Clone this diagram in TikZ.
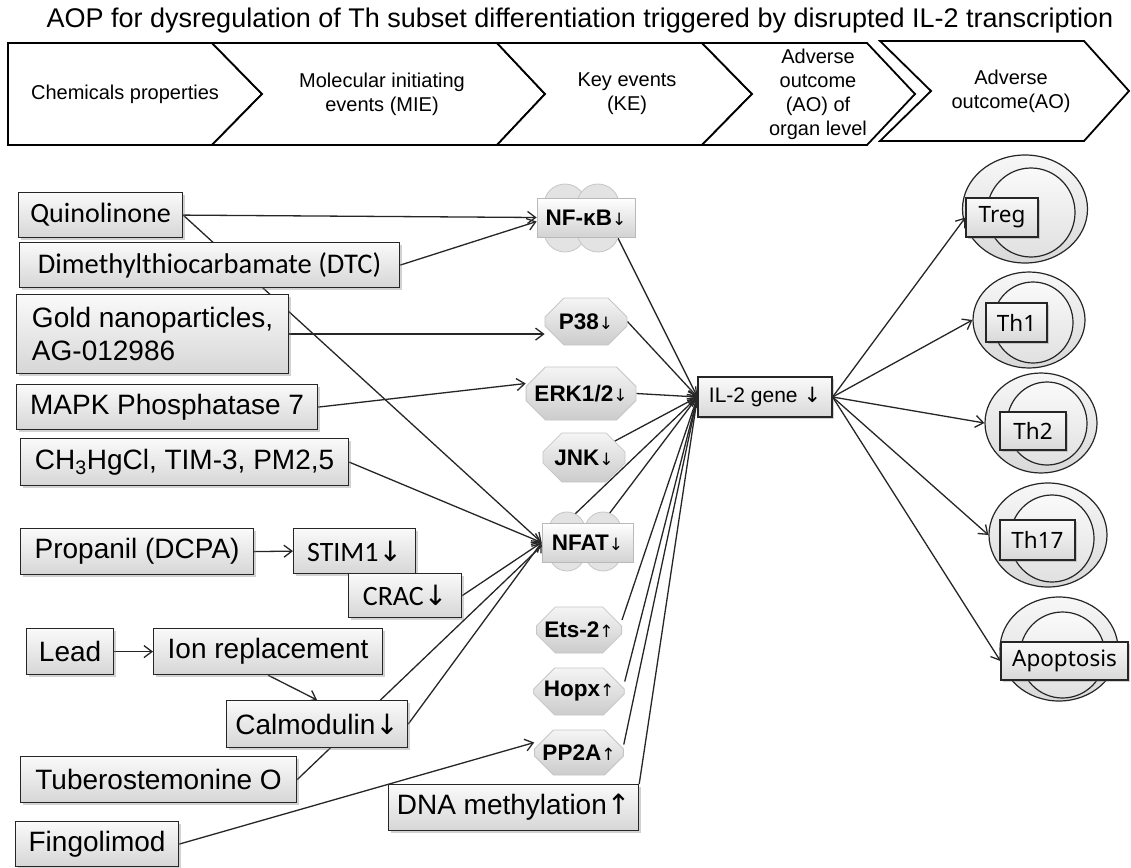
\documentclass[tikz,border=0pt]{standalone}
\usepackage{fontspec}
\setmainfont{Liberation Sans}
\newfontfamily\carl{Carlito}
\newfontfamily\arw{DejaVu Sans}
\newfontfamily\lblf{Noto Sans}
\usetikzlibrary{shapes.misc,shapes.geometric,shadows,arrows.meta,calc,backgrounds}
\newcommand{\dnA}{{\arw ↓}}
\newcommand{\upA}{{\arw ↑}}
\newcommand{\smdn}{{\arw\mdseries\fontsize{17}{17}\selectfont ↓}}
\newcommand{\smup}{{\arw\mdseries\fontsize{17}{17}\selectfont ↑}}
\tikzset{
  hdr/.style={draw=black, line width=1.8pt, fill=white, line join=miter},
  hdrtxt/.style={font=\fontsize{20}{24}\selectfont, align=center, inner sep=0pt},
  lbox/.style={draw=black!85, line width=1.2pt, rectangle, top color=gray!4, bottom color=gray!32,
    drop shadow={shadow xshift=2pt, shadow yshift=-2pt, opacity=0.35},
    inner sep=0pt, anchor=north west, font=\fontsize{28}{33}\selectfont, align=center},
  kebox/.style={rectangle, draw=gray!55, line width=0.8pt, top color=white, bottom color=gray!35,
    inner sep=0pt, font=\bfseries\fontsize{22.5}{25}\selectfont},
  oct/.style={chamfered rectangle, chamfered rectangle xsep=11pt, chamfered rectangle ysep=11pt,
    draw=gray!45, line width=0.8pt, top color=gray!8, bottom color=gray!40, inner sep=0pt,
    font=\bfseries\fontsize{22.5}{25}\selectfont},
  cloudc/.style={draw=gray!45, line width=0.8pt, fill=gray!22},
  ilbox/.style={rectangle, draw=black!85, line width=1.2pt, top color=gray!4, bottom color=gray!30,
    drop shadow={shadow xshift=2pt, shadow yshift=-2pt, opacity=0.35},
    inner sep=0pt, font=\fontsize{21}{24}\selectfont},
  outc/.style={ellipse, draw=black!85, line width=1.2pt, top color=gray!6, bottom color=gray!30, inner sep=0pt},
  innc/.style={ellipse, draw=black!85, line width=1.2pt, top color=gray!4, bottom color=gray!24, inner sep=0pt},
  tbox/.style={rectangle, draw=black!85, line width=1.2pt, top color=gray!4, bottom color=gray!30,
    drop shadow={shadow xshift=2pt, shadow yshift=-2pt, opacity=0.35},
    inner sep=0pt, font=\lblf\fontsize{22.5}{25}\selectfont},
  conn/.style={draw=black!85, line width=1.3pt, -{Straight Barb[length=8pt,width=12pt]}},
}
\begin{document}
\begin{tikzpicture}[x=1pt,y=-1pt]
\useasboundingbox (0,0) rectangle (1131,867);
\begin{pgfonlayer}{background}
\fill[white] (0,0) rectangle (1131,867);
\end{pgfonlayer}

% title
\node[font=\fontsize{27}{31}\selectfont, anchor=base, inner sep=0pt] (title) at (580,28)
  {AOP for dysregulation of Th subset differentiation triggered by disrupted IL-2 transcription};

% header chevrons
\draw[hdr] (8,43) -- (212,43) -- (262,94) -- (212,145) -- (8,145) -- cycle;
\draw[hdr] (212,43) -- (497,43) -- (545,94) -- (497,145) -- (212,145) -- (262,94) -- cycle;
\draw[hdr] (497,43) -- (702,43) -- (752,94) -- (702,145) -- (497,145) -- (545,94) -- cycle;
\draw[hdr] (702,43) -- (867,43) -- (915,94) -- (867,145) -- (702,145) -- (752,94) -- cycle;
\draw[hdr] (880,41) -- (1084,41) -- (1129,91) -- (1084,141) -- (880,141) -- (931,91) -- cycle;
\node[hdrtxt] (h1) at (125,94) {Chemicals properties};
\node[hdrtxt] (h2) at (382,94) {Molecular initiating\\events (MIE)};
\node[hdrtxt] (h3) at (627,94) {Key events\\(KE)};
\node[hdrtxt] (h4) at (818,94) {Adverse\\outcome\\(AO) of\\organ level};
\node[hdrtxt] (h5) at (1011,91) {Adverse\\outcome(AO)};

% clouds behind NF-kB and NFAT
\foreach \cx/\cy in {565/205, 598/205, 565/231, 598/231}
  \draw[cloudc] (\cx,\cy) circle[radius=21];
\foreach \cx/\cy in {567/530, 603/530, 567/553, 603/553}
  \draw[cloudc] (\cx,\cy) circle[radius=18];

% left boxes
\node[lbox, minimum width=164pt, minimum height=45pt, font=\carl\fontsize{28}{33}\selectfont] (q) at (18,192) {Quinolinone};
\node[lbox, minimum width=380pt, minimum height=45pt, font=\carl\fontsize{28.5}{33}\selectfont] (dtc) at (19,242) {Dimethylthiocarbamate (DTC)};
\node[lbox, minimum width=272pt, minimum height=79pt, align=left] (gold) at (16,294) {Gold nanoparticles,\\AG-012986};
\node[lbox, minimum width=301pt, minimum height=45pt] (mapk) at (16,384) {MAPK Phosphatase 7};
\node[lbox, minimum width=328pt, minimum height=47pt] (ch) at (20,438) {CH\textsubscript{3}HgCl, TIM-3, PM2,5};
\node[lbox, minimum width=233pt, minimum height=46pt] (prop) at (20,528) {Propanil (DCPA)};
\node[lbox, minimum width=122pt, minimum height=45pt, font=\carl\fontsize{28}{33}\selectfont] (stim) at (293,528) {STIM1\dnA};
\node[lbox, minimum width=113pt, minimum height=44pt, font=\carl\fontsize{28}{33}\selectfont] (crac) at (348,573) {CRAC\dnA};
\node[lbox, minimum width=87pt, minimum height=46pt] (lead) at (26,628) {Lead};
\node[lbox, minimum width=229pt, minimum height=46pt] (ion) at (153,628) {Ion replacement};
\node[lbox, minimum width=181pt, minimum height=47pt] (calm) at (226,700) {Calmodulin\dnA};
\node[lbox, minimum width=276pt, minimum height=46pt] (tub) at (20,756) {Tuberostemonine O};
\node[lbox, minimum width=163pt, minimum height=45pt] (fing) at (15,821) {Fingolimod};
\node[lbox, minimum width=250pt, minimum height=46pt] (dna) at (388,784) {DNA methylation\upA};

% key events
\node[kebox, minimum width=98pt, minimum height=39pt] (nfkb) at (586,217.5) {NF-κB\smdn};
\node[oct, minimum width=82pt, minimum height=47pt] (p38) at (586,321.5) {P38\smdn};
\node[oct, minimum width=98pt, minimum height=53pt] (erk) at (581,393.5) {ERK1/2\smdn};
\node[oct, minimum width=82pt, minimum height=49pt] (jnk) at (584,457.5) {JNK\smdn};
\node[kebox, minimum width=91pt, minimum height=39pt] (nfat) at (587.5,542.5) {NFAT\smdn};
\node[oct, minimum width=82pt, minimum height=46pt] (ets) at (579,630) {Ets-2\smup};
\node[oct, minimum width=82pt, minimum height=47pt] (hopx) at (579,691.5) {Hopx\smup};
\node[oct, minimum width=82pt, minimum height=45pt] (pp2a) at (579,752.5) {PP2A\smup};
\node[ilbox, minimum width=134pt, minimum height=40pt] (il2) at (765,397) {IL-2 gene \dnA};

% outcomes
\node[outc, minimum width=125pt, minimum height=108pt] (tregc) at (1025,209) {};
\node[innc, minimum width=88pt, minimum height=89pt] (tregi) at (1031,212.5) {};
\node[tbox, minimum width=72pt, minimum height=39pt] (treg) at (1002,217.5) {Treg};
\node[outc, minimum width=112pt, minimum height=96pt] (th1c) at (1029,320) {};
\node[innc, minimum width=80pt, minimum height=81pt] (th1i) at (1033,322.5) {};
\node[tbox, minimum width=61pt, minimum height=39pt] (th1) at (1016.5,322.5) {Th1};
\node[outc, minimum width=112pt, minimum height=100pt] (th2c) at (1041,423) {};
\node[innc, minimum width=80pt, minimum height=83pt] (th2i) at (1047,423.5) {};
\node[tbox, minimum width=66pt, minimum height=38pt] (th2) at (1033,431) {Th2};
\node[outc, minimum width=118pt, minimum height=104pt] (th17c) at (1048,535) {};
\node[innc, minimum width=84pt, minimum height=87pt] (th17i) at (1052,538.5) {};
\node[tbox, minimum width=75pt, minimum height=40pt] (th17) at (1037.5,540) {Th17};
\node[outc, minimum width=118pt, minimum height=104pt] (apoc) at (1059,649) {};
\node[innc, minimum width=85pt, minimum height=86pt] (apoi) at (1062.5,655) {};
\node[tbox, minimum width=127pt, minimum height=38pt] (apo) at (1064.5,661) {Apoptosis};

% connectors behind the boxes
\begin{pgfonlayer}{background}
\draw[conn] (q.east) -- (nfkb.west);
\draw[conn] (q.east) -- (nfat.west);
\draw[conn] (dtc.east) -- ($(nfkb.west)+(0,4)$);
\draw[conn] (gold.east) -- (gold.east -| p38.west);
\draw[conn] (mapk.east) -- ($(erk.west)+(0,-10)$);
\draw[conn] (ch.east) -- (nfat.west);
\draw[conn] (prop.east) -- (stim.west);
\draw[conn] (crac.east) -- (nfat.west);
\draw[conn] (lead.east) -- (ion.west);
\draw[conn] (ion.south) -- (calm.north);
\draw[conn] (calm.east) -- (nfat.west);
\draw[conn] (tub.east) -- (il2.west);
\draw[conn] (fing.east) -- ($(pp2a.west)+(0,-10)$);
\draw[conn] ($(nfkb.south east)!0.18!(nfkb.south west)$) -- (il2.west);
\draw[conn] (p38.east) -- (il2.west);
\draw[conn] (erk.east) -- (il2.west);
\draw[conn] (jnk) -- (il2.west);
\draw[conn] (nfat) -- (il2.west);
\draw[conn] ($(ets.east)+(0,-10)$) -- (il2.west);
\draw[conn] ($(hopx.east)+(0,-10)$) -- (il2.west);
\draw[conn] ($(pp2a.east)+(0,-8)$) -- (il2.west);
\draw[conn] (dna.north east) -- (il2.west);
\end{pgfonlayer}

% outcome arrows
\draw[conn] (il2.east) -- (treg.west);
\draw[conn] (il2.east) -- (th1c.west);
\draw[conn] (il2.east) -- (th2c.west);
\draw[conn] (il2.east) -- (th17c.west);
\draw[conn] (il2.east) -- (apo.west);
\end{tikzpicture}
\end{document}
